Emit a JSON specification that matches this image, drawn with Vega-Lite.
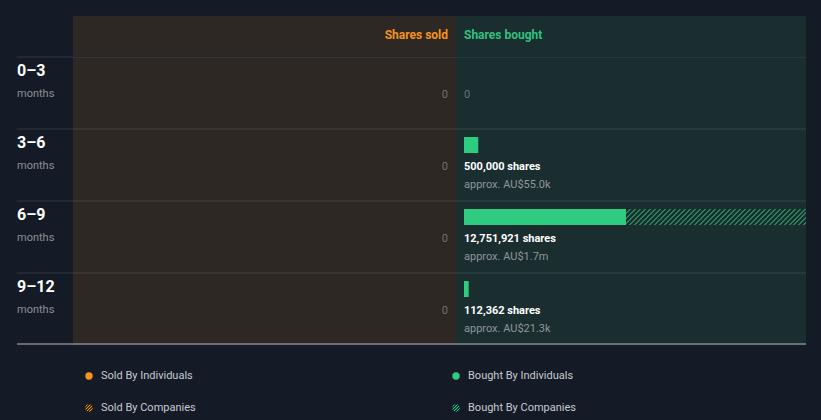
{
  "$schema": "https://vega.github.io/schema/vega-lite/v6.json",
  "background": "#151b26",
  "padding": {"left": 16, "right": 16, "top": 16, "bottom": 0},
  "config": {
    "view": {"stroke": null},
    "concat": {"spacing": 0},
    "font": "Roboto",
    "text": {"font": "Roboto"}
  },
  "datasets": {
    "periods": [
      {"period": "0–3"}, {"period": "3–6"}, {"period": "6–9"}, {"period": "9–12"}
    ],
    "sold": [
      {"period": "0–3", "shares": 0},
      {"period": "3–6", "shares": 0},
      {"period": "6–9", "shares": 0},
      {"period": "9–12", "shares": 0}
    ],
    "bought": [
      {"period": "0–3", "type": "individuals", "shares": 0, "label": "", "approx": ""},
      {"period": "3–6", "type": "individuals", "shares": 500000, "label": "500,000 shares", "approx": "approx. AU$55.0k"},
      {"period": "6–9", "type": "individuals", "shares": 12751921, "label": "12,751,921 shares", "approx": "approx. AU$1.7m"},
      {"period": "6–9", "type": "companies", "shares": 21778079, "label": "", "approx": ""},
      {"period": "9–12", "type": "individuals", "shares": 112362, "label": "112,362 shares", "approx": "approx. AU$21.3k"}
    ],
    "legend": [
      {"side": "Sold", "by": "Individuals", "label": "Sold By Individuals"},
      {"side": "Sold", "by": "Companies", "label": "Sold By Companies"},
      {"side": "Bought", "by": "Individuals", "label": "Bought By Individuals"},
      {"side": "Bought", "by": "Companies", "label": "Bought By Companies"}
    ]
  },
  "spacing": 0,
  "vconcat": [
    {
      "spacing": 0,
      "bounds": "flush",
      "hconcat": [
        {
          "width": 56, "height": 40,
          "data": {"values": [{"t": ""}]},
          "mark": {"type": "text"},
          "encoding": {"text": {"field": "t"}}
        },
        {
          "width": 383, "height": 40,
          "view": {"fill": "#2d2823"},
          "data": {"values": [{"t": "Shares sold"}]},
          "mark": {"type": "text", "align": "right", "baseline": "middle", "fontSize": 12, "fontWeight": "bold", "color": "#f7931e", "dy": -1},
          "encoding": {
            "x": {"datum": 0, "type": "quantitative", "scale": {"type": "pow", "exponent": 0.75, "domain": [0, 34530000], "range": [375, 33], "nice": false}, "axis": null},
            "text": {"field": "t"}
          }
        },
        {
          "width": 350, "height": 40,
          "view": {"fill": "#1a2d2f"},
          "data": {"values": [{"t": "Shares bought"}]},
          "mark": {"type": "text", "align": "left", "baseline": "middle", "fontSize": 12, "fontWeight": "bold", "color": "#2ec27e", "dy": -1},
          "encoding": {
            "x": {"datum": 0, "type": "quantitative", "scale": {"type": "pow", "exponent": 0.75, "domain": [0, 34530000], "range": [8, 350], "nice": false}, "axis": null},
            "text": {"field": "t"}
          }
        }
      ]
    },
    {
      "spacing": 0,
      "bounds": "flush",
      "hconcat": [
        {
          "width": 56, "height": 288,
          "data": {"name": "periods"},
          "layer": [
            {
              "mark": {"type": "rule", "color": "#ffffff", "strokeOpacity": 0.12},
              "encoding": {"y": {"field": "period", "type": "nominal", "bandPosition": 0, "scale": {"domain": ["0–3", "3–6", "6–9", "9–12"], "paddingInner": 0, "paddingOuter": 0}, "axis": null}}
            },
            {
              "transform": [{"filter": "datum.period === '9–12'"}],
              "mark": {"type": "rule", "color": "#b4b8bd", "yOffset": -1},
              "encoding": {"y": {"field": "period", "type": "nominal", "bandPosition": 1, "axis": null}}
            },
            {
              "mark": {"type": "text", "align": "left", "baseline": "middle", "fontSize": 16, "fontWeight": "bold", "color": "#ffffff"},
              "encoding": {
                "x": {"value": 0},
                "y": {"field": "period", "type": "nominal", "bandPosition": 0.194, "axis": null},
                "text": {"field": "period"}
              }
            },
            {
              "mark": {"type": "text", "align": "left", "baseline": "middle", "fontSize": 11, "color": "#8a9099"},
              "encoding": {
                "x": {"value": 0},
                "y": {"field": "period", "type": "nominal", "bandPosition": 0.51, "axis": null},
                "text": {"value": "months"}
              }
            }
          ]
        },
        {
          "width": 383, "height": 288,
          "view": {"fill": "#2d2823"},
          "data": {"name": "sold"},
          "layer": [
            {
              "mark": {"type": "rule", "color": "#ffffff", "strokeOpacity": 0.12},
              "encoding": {"y": {"field": "period", "type": "nominal", "bandPosition": 0, "scale": {"domain": ["0–3", "3–6", "6–9", "9–12"], "paddingInner": 0, "paddingOuter": 0}, "axis": null}}
            },
            {
              "transform": [{"filter": "datum.period === '9–12'"}],
              "mark": {"type": "rule", "color": "#b4b8bd", "yOffset": -1},
              "encoding": {"y": {"field": "period", "type": "nominal", "bandPosition": 1, "axis": null}}
            },
            {
              "mark": {"type": "text", "align": "right", "baseline": "middle", "fontSize": 11, "color": "#75716c"},
              "encoding": {
                "x": {"field": "shares", "type": "quantitative", "scale": {"type": "pow", "exponent": 0.75, "domain": [0, 34530000], "range": [375, 33], "nice": false}, "axis": null},
                "y": {"field": "period", "type": "nominal", "bandPosition": 0.528, "axis": null},
                "text": {"field": "shares", "type": "quantitative", "format": ","}
              }
            }
          ]
        },
        {
          "width": 350, "height": 288,
          "view": {"fill": "#1a2d2f"},
          "data": {"name": "bought"},
          "layer": [
            {
              "data": {"name": "periods"},
              "mark": {"type": "rule", "color": "#ffffff", "strokeOpacity": 0.12},
              "encoding": {"y": {"field": "period", "type": "nominal", "bandPosition": 0, "scale": {"domain": ["0–3", "3–6", "6–9", "9–12"], "paddingInner": 0, "paddingOuter": 0}, "axis": null}}
            },
            {
              "data": {"values": [{"period": "9–12"}]},
              "mark": {"type": "rule", "color": "#b4b8bd", "yOffset": -1},
              "encoding": {"y": {"field": "period", "type": "nominal", "bandPosition": 1, "axis": null}}
            },
            {
              "transform": [{"filter": "datum.shares > 0"}],
              "mark": {"type": "bar", "height": 16, "yOffset": -20, "cornerRadius": 0},
              "encoding": {
                "x": {"field": "shares", "type": "quantitative", "stack": "zero", "scale": {"type": "pow", "exponent": 0.75, "domain": [0, 34530000], "range": [8, 350], "nice": false, "zero": true}, "axis": null},
                "y": {"field": "period", "type": "nominal", "axis": null},
                "detail": {"field": "type"},
                "order": {"field": "type", "sort": "descending"},
                "fill": {
                  "condition": {
                    "test": "datum.type === 'companies'",
                    "value": {
                      "gradient": "linear", "x1": 0, "y1": 0, "x2": 1.1024, "y2": 0.098,
                      "stops": [
                        {"offset": 0, "color": "#1a2d2f"}, {"offset": 0.015, "color": "#1a2d2f"}, {"offset": 0.015, "color": "#27825a"}, {"offset": 0.025, "color": "#27825a"},
                        {"offset": 0.025, "color": "#1a2d2f"}, {"offset": 0.04, "color": "#1a2d2f"}, {"offset": 0.04, "color": "#27825a"}, {"offset": 0.05, "color": "#27825a"},
                        {"offset": 0.05, "color": "#1a2d2f"}, {"offset": 0.065, "color": "#1a2d2f"}, {"offset": 0.065, "color": "#27825a"}, {"offset": 0.075, "color": "#27825a"},
                        {"offset": 0.075, "color": "#1a2d2f"}, {"offset": 0.09, "color": "#1a2d2f"}, {"offset": 0.09, "color": "#27825a"}, {"offset": 0.1, "color": "#27825a"},
                        {"offset": 0.1, "color": "#1a2d2f"}, {"offset": 0.115, "color": "#1a2d2f"}, {"offset": 0.115, "color": "#27825a"}, {"offset": 0.125, "color": "#27825a"},
                        {"offset": 0.125, "color": "#1a2d2f"}, {"offset": 0.14, "color": "#1a2d2f"}, {"offset": 0.14, "color": "#27825a"}, {"offset": 0.15, "color": "#27825a"},
                        {"offset": 0.15, "color": "#1a2d2f"}, {"offset": 0.165, "color": "#1a2d2f"}, {"offset": 0.165, "color": "#27825a"}, {"offset": 0.175, "color": "#27825a"},
                        {"offset": 0.175, "color": "#1a2d2f"}, {"offset": 0.19, "color": "#1a2d2f"}, {"offset": 0.19, "color": "#27825a"}, {"offset": 0.2, "color": "#27825a"},
                        {"offset": 0.2, "color": "#1a2d2f"}, {"offset": 0.215, "color": "#1a2d2f"}, {"offset": 0.215, "color": "#27825a"}, {"offset": 0.225, "color": "#27825a"},
                        {"offset": 0.225, "color": "#1a2d2f"}, {"offset": 0.24, "color": "#1a2d2f"}, {"offset": 0.24, "color": "#27825a"}, {"offset": 0.25, "color": "#27825a"},
                        {"offset": 0.25, "color": "#1a2d2f"}, {"offset": 0.265, "color": "#1a2d2f"}, {"offset": 0.265, "color": "#27825a"}, {"offset": 0.275, "color": "#27825a"},
                        {"offset": 0.275, "color": "#1a2d2f"}, {"offset": 0.29, "color": "#1a2d2f"}, {"offset": 0.29, "color": "#27825a"}, {"offset": 0.3, "color": "#27825a"},
                        {"offset": 0.3, "color": "#1a2d2f"}, {"offset": 0.315, "color": "#1a2d2f"}, {"offset": 0.315, "color": "#27825a"}, {"offset": 0.325, "color": "#27825a"},
                        {"offset": 0.325, "color": "#1a2d2f"}, {"offset": 0.34, "color": "#1a2d2f"}, {"offset": 0.34, "color": "#27825a"}, {"offset": 0.35, "color": "#27825a"},
                        {"offset": 0.35, "color": "#1a2d2f"}, {"offset": 0.365, "color": "#1a2d2f"}, {"offset": 0.365, "color": "#27825a"}, {"offset": 0.375, "color": "#27825a"},
                        {"offset": 0.375, "color": "#1a2d2f"}, {"offset": 0.39, "color": "#1a2d2f"}, {"offset": 0.39, "color": "#27825a"}, {"offset": 0.4, "color": "#27825a"},
                        {"offset": 0.4, "color": "#1a2d2f"}, {"offset": 0.415, "color": "#1a2d2f"}, {"offset": 0.415, "color": "#27825a"}, {"offset": 0.425, "color": "#27825a"},
                        {"offset": 0.425, "color": "#1a2d2f"}, {"offset": 0.44, "color": "#1a2d2f"}, {"offset": 0.44, "color": "#27825a"}, {"offset": 0.45, "color": "#27825a"},
                        {"offset": 0.45, "color": "#1a2d2f"}, {"offset": 0.465, "color": "#1a2d2f"}, {"offset": 0.465, "color": "#27825a"}, {"offset": 0.475, "color": "#27825a"},
                        {"offset": 0.475, "color": "#1a2d2f"}, {"offset": 0.49, "color": "#1a2d2f"}, {"offset": 0.49, "color": "#27825a"}, {"offset": 0.5, "color": "#27825a"},
                        {"offset": 0.5, "color": "#1a2d2f"}, {"offset": 0.515, "color": "#1a2d2f"}, {"offset": 0.515, "color": "#27825a"}, {"offset": 0.525, "color": "#27825a"},
                        {"offset": 0.525, "color": "#1a2d2f"}, {"offset": 0.54, "color": "#1a2d2f"}, {"offset": 0.54, "color": "#27825a"}, {"offset": 0.55, "color": "#27825a"},
                        {"offset": 0.55, "color": "#1a2d2f"}, {"offset": 0.565, "color": "#1a2d2f"}, {"offset": 0.565, "color": "#27825a"}, {"offset": 0.575, "color": "#27825a"},
                        {"offset": 0.575, "color": "#1a2d2f"}, {"offset": 0.59, "color": "#1a2d2f"}, {"offset": 0.59, "color": "#27825a"}, {"offset": 0.6, "color": "#27825a"},
                        {"offset": 0.6, "color": "#1a2d2f"}, {"offset": 0.615, "color": "#1a2d2f"}, {"offset": 0.615, "color": "#27825a"}, {"offset": 0.625, "color": "#27825a"},
                        {"offset": 0.625, "color": "#1a2d2f"}, {"offset": 0.64, "color": "#1a2d2f"}, {"offset": 0.64, "color": "#27825a"}, {"offset": 0.65, "color": "#27825a"},
                        {"offset": 0.65, "color": "#1a2d2f"}, {"offset": 0.665, "color": "#1a2d2f"}, {"offset": 0.665, "color": "#27825a"}, {"offset": 0.675, "color": "#27825a"},
                        {"offset": 0.675, "color": "#1a2d2f"}, {"offset": 0.69, "color": "#1a2d2f"}, {"offset": 0.69, "color": "#27825a"}, {"offset": 0.7, "color": "#27825a"},
                        {"offset": 0.7, "color": "#1a2d2f"}, {"offset": 0.715, "color": "#1a2d2f"}, {"offset": 0.715, "color": "#27825a"}, {"offset": 0.725, "color": "#27825a"},
                        {"offset": 0.725, "color": "#1a2d2f"}, {"offset": 0.74, "color": "#1a2d2f"}, {"offset": 0.74, "color": "#27825a"}, {"offset": 0.75, "color": "#27825a"},
                        {"offset": 0.75, "color": "#1a2d2f"}, {"offset": 0.765, "color": "#1a2d2f"}, {"offset": 0.765, "color": "#27825a"}, {"offset": 0.775, "color": "#27825a"},
                        {"offset": 0.775, "color": "#1a2d2f"}, {"offset": 0.79, "color": "#1a2d2f"}, {"offset": 0.79, "color": "#27825a"}, {"offset": 0.8, "color": "#27825a"},
                        {"offset": 0.8, "color": "#1a2d2f"}, {"offset": 0.815, "color": "#1a2d2f"}, {"offset": 0.815, "color": "#27825a"}, {"offset": 0.825, "color": "#27825a"},
                        {"offset": 0.825, "color": "#1a2d2f"}, {"offset": 0.84, "color": "#1a2d2f"}, {"offset": 0.84, "color": "#27825a"}, {"offset": 0.85, "color": "#27825a"},
                        {"offset": 0.85, "color": "#1a2d2f"}, {"offset": 0.865, "color": "#1a2d2f"}, {"offset": 0.865, "color": "#27825a"}, {"offset": 0.875, "color": "#27825a"},
                        {"offset": 0.875, "color": "#1a2d2f"}, {"offset": 0.89, "color": "#1a2d2f"}, {"offset": 0.89, "color": "#27825a"}, {"offset": 0.9, "color": "#27825a"},
                        {"offset": 0.9, "color": "#1a2d2f"}, {"offset": 0.915, "color": "#1a2d2f"}, {"offset": 0.915, "color": "#27825a"}, {"offset": 0.925, "color": "#27825a"},
                        {"offset": 0.925, "color": "#1a2d2f"}, {"offset": 0.94, "color": "#1a2d2f"}, {"offset": 0.94, "color": "#27825a"}, {"offset": 0.95, "color": "#27825a"},
                        {"offset": 0.95, "color": "#1a2d2f"}, {"offset": 0.965, "color": "#1a2d2f"}, {"offset": 0.965, "color": "#27825a"}, {"offset": 0.975, "color": "#27825a"},
                        {"offset": 0.975, "color": "#1a2d2f"}, {"offset": 0.99, "color": "#1a2d2f"}, {"offset": 0.99, "color": "#27825a"}, {"offset": 1, "color": "#27825a"}
                      ]
                    }
                  },
                  "value": "#2ecc80"
                }
              }
            },
            {
              "transform": [{"filter": "datum.shares > 0 && datum.type === 'individuals'"}],
              "mark": {"type": "text", "align": "left", "baseline": "middle", "fontSize": 11, "fontWeight": "bold", "color": "#ffffff"},
              "encoding": {
                "x": {"datum": 0, "type": "quantitative"},
                "y": {"field": "period", "type": "nominal", "bandPosition": 0.528, "axis": null},
                "text": {"field": "label"}
              }
            },
            {
              "transform": [{"filter": "datum.shares > 0 && datum.type === 'individuals'"}],
              "mark": {"type": "text", "align": "left", "baseline": "middle", "fontSize": 11, "color": "#8e979a"},
              "encoding": {
                "x": {"datum": 0, "type": "quantitative"},
                "y": {"field": "period", "type": "nominal", "bandPosition": 0.778, "axis": null},
                "text": {"field": "approx"}
              }
            },
            {
              "transform": [{"filter": "datum.shares === 0"}],
              "mark": {"type": "text", "align": "left", "baseline": "middle", "fontSize": 11, "color": "#6a7577"},
              "encoding": {
                "x": {"field": "shares", "type": "quantitative"},
                "y": {"field": "period", "type": "nominal", "bandPosition": 0.528, "axis": null},
                "text": {"field": "shares", "type": "quantitative", "format": ","}
              }
            }
          ]
        }
      ]
    },
    {
      "width": 789, "height": 76,
      "data": {"name": "legend"},
      "layer": [
        {
          "transform": [{"filter": "datum.by === 'Individuals'"}],
          "mark": {"type": "circle", "size": 55, "opacity": 1},
          "encoding": {
            "x": {"field": "side", "type": "nominal", "scale": {"type": "point", "domain": ["Sold", "Bought"], "range": [72, 439], "padding": 0}, "axis": null},
            "y": {"field": "by", "type": "nominal", "scale": {"type": "point", "domain": ["Individuals", "Companies"], "range": [31, 63], "padding": 0}, "axis": null},
            "color": {"field": "side", "type": "nominal", "scale": {"domain": ["Sold", "Bought"], "range": ["#f7931a", "#2ecc80"]}, "legend": null}
          }
        },
        {
          "transform": [{"filter": "datum.by === 'Companies' && datum.side === 'Sold'"}],
          "mark": {
            "type": "circle", "size": 55, "opacity": 1,
            "fill": {
              "gradient": "linear", "x1": 0, "y1": 0, "x2": 1, "y2": 1,
              "stops": [
                {"offset": 0, "color": "#3b2c1c"}, {"offset": 0.12, "color": "#3b2c1c"}, {"offset": 0.12, "color": "#f7931a"}, {"offset": 0.2, "color": "#f7931a"},
                {"offset": 0.2, "color": "#3b2c1c"}, {"offset": 0.32, "color": "#3b2c1c"}, {"offset": 0.32, "color": "#f7931a"}, {"offset": 0.4, "color": "#f7931a"},
                {"offset": 0.4, "color": "#3b2c1c"}, {"offset": 0.52, "color": "#3b2c1c"}, {"offset": 0.52, "color": "#f7931a"}, {"offset": 0.6, "color": "#f7931a"},
                {"offset": 0.6, "color": "#3b2c1c"}, {"offset": 0.72, "color": "#3b2c1c"}, {"offset": 0.72, "color": "#f7931a"}, {"offset": 0.8, "color": "#f7931a"},
                {"offset": 0.8, "color": "#3b2c1c"}, {"offset": 1, "color": "#3b2c1c"}
              ]
            }
          },
          "encoding": {
            "x": {"field": "side", "type": "nominal", "axis": null},
            "y": {"field": "by", "type": "nominal", "axis": null}
          }
        },
        {
          "transform": [{"filter": "datum.by === 'Companies' && datum.side === 'Bought'"}],
          "mark": {
            "type": "circle", "size": 55, "opacity": 1,
            "fill": {
              "gradient": "linear", "x1": 0, "y1": 0, "x2": 1, "y2": 1,
              "stops": [
                {"offset": 0, "color": "#193a2e"}, {"offset": 0.12, "color": "#193a2e"}, {"offset": 0.12, "color": "#2ecc80"}, {"offset": 0.2, "color": "#2ecc80"},
                {"offset": 0.2, "color": "#193a2e"}, {"offset": 0.32, "color": "#193a2e"}, {"offset": 0.32, "color": "#2ecc80"}, {"offset": 0.4, "color": "#2ecc80"},
                {"offset": 0.4, "color": "#193a2e"}, {"offset": 0.52, "color": "#193a2e"}, {"offset": 0.52, "color": "#2ecc80"}, {"offset": 0.6, "color": "#2ecc80"},
                {"offset": 0.6, "color": "#193a2e"}, {"offset": 0.72, "color": "#193a2e"}, {"offset": 0.72, "color": "#2ecc80"}, {"offset": 0.8, "color": "#2ecc80"},
                {"offset": 0.8, "color": "#193a2e"}, {"offset": 1, "color": "#193a2e"}
              ]
            }
          },
          "encoding": {
            "x": {"field": "side", "type": "nominal", "axis": null},
            "y": {"field": "by", "type": "nominal", "axis": null}
          }
        },
        {
          "mark": {"type": "text", "align": "left", "baseline": "middle", "fontSize": 11, "color": "#c5cad0", "xOffset": 12},
          "encoding": {
            "x": {"field": "side", "type": "nominal", "axis": null},
            "y": {"field": "by", "type": "nominal", "axis": null},
            "text": {"field": "label"}
          }
        }
      ]
    }
  ]
}
